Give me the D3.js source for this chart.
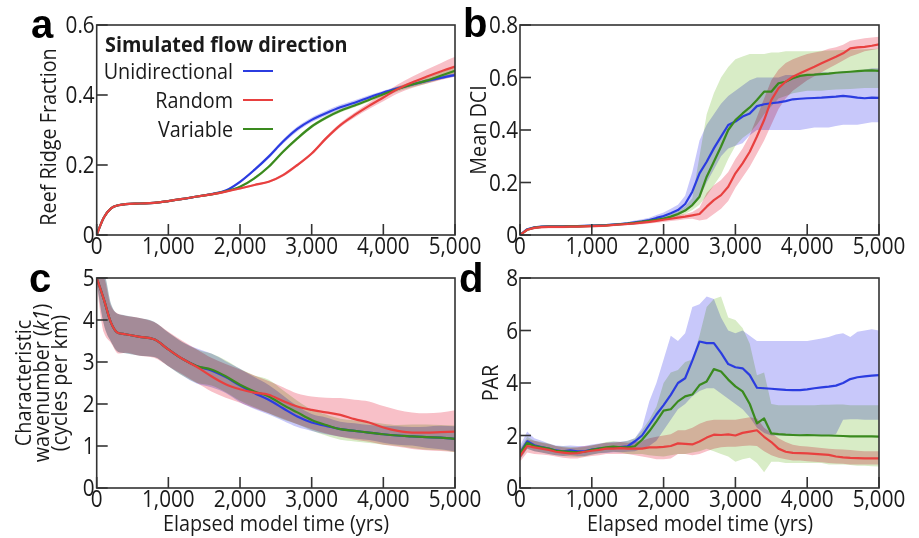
<!DOCTYPE html>
<html>
<head>
<meta charset="utf-8">
<script src="https://cdn.jsdelivr.net/npm/d3@7"></script>
<style>
  body { margin: 0; background: #fff; }
  svg { display: block; font-family: "Open Sans", "Noto Sans", sans-serif; }
  .band { mix-blend-mode: multiply; }
</style>
</head>
<body>
<svg id="fig" width="919" height="538"></svg>
<script>
// ---- time grids ----
const yearsCoarse = [0,100,200,300,400,600,800,1000,1200,1400,1600,1800,2000,2200,2400,2600,2800,3000,3200,3400,3600,3800,4000,4200,4400,4600,4800,5000];
const yearsFine = d3.range(0, 5001, 100);
const xTicks = [0,1000,2000,3000,4000,5000];

// ---- panel a: reef ridge fraction (mean + spread) ----
const ridgeBlue  = [0,0.05,0.076,0.085,0.088, 0.09,0.092,0.097, 0.103,0.11,0.117,0.127,0.152, 0.186,0.224,0.267,0.303,0.329, 0.348,0.365,0.378,0.393,0.407, 0.419,0.43,0.44,0.449,0.457];
const ridgeRed   = [0,0.05,0.076,0.085,0.088, 0.09,0.092,0.097, 0.103,0.11,0.116,0.124,0.133, 0.143,0.152,0.171,0.2,0.233, 0.276,0.314,0.343,0.369,0.393, 0.417,0.436,0.452,0.467,0.481];
const ridgeGreen = [0,0.05,0.076,0.085,0.088, 0.09,0.092,0.097, 0.103,0.11,0.116,0.125,0.138, 0.162,0.195,0.238,0.276,0.31, 0.335,0.355,0.37,0.386,0.402, 0.417,0.43,0.441,0.455,0.469];
const ridgeBlueSd  = [0,0.003,0.003,0.003,0.003, 0.003,0.003,0.003, 0.003,0.003,0.003,0.003,0.004, 0.004,0.005,0.006,0.007,0.007, 0.007,0.007,0.007,0.006,0.005, 0.005,0.005,0.005,0.005,0.005];
const ridgeRedSd   = [0,0.003,0.003,0.003,0.003, 0.003,0.003,0.003, 0.003,0.003,0.003,0.003,0.003, 0.003,0.003,0.004,0.004,0.004, 0.005,0.006,0.007,0.009,0.011, 0.013,0.016,0.02,0.024,0.028];
const ridgeGreenSd = [0,0.003,0.003,0.003,0.003, 0.003,0.003,0.003, 0.003,0.003,0.003,0.003,0.003, 0.004,0.004,0.005,0.005,0.005, 0.005,0.005,0.005,0.005,0.006, 0.007,0.008,0.009,0.01,0.011];

// ---- panel b: mean DCI ----
const dciBlue = [0,0.022,0.029,0.032,0.033,0.033,0.033,0.034,0.034,0.035,
  0.036,0.037,0.038,0.04,0.042,0.044,0.048,0.052,0.057,0.065,
  0.072,0.083,0.095,0.118,0.165,0.235,0.279,0.33,0.375,0.419,
  0.432,0.451,0.463,0.491,0.498,0.502,0.505,0.51,0.517,0.519,
  0.521,0.522,0.523,0.525,0.527,0.53,0.527,0.523,0.521,0.523, 0.522];
const dciBlueLo = [0,0.018,0.025,0.028,0.029,0.029,0.029,0.03,0.03,0.031,
  0.032,0.033,0.034,0.035,0.037,0.038,0.041,0.044,0.048,0.054,
  0.058,0.066,0.075,0.09,0.11,0.14,0.2,0.25,0.3,0.33,
  0.34,0.35,0.38,0.4,0.4,0.4,0.4,0.4,0.4,0.4,
  0.405,0.41,0.41,0.41,0.415,0.42,0.42,0.42,0.425,0.43, 0.43];
const dciBlueHi = [0,0.026,0.033,0.036,0.037,0.037,0.037,0.038,0.038,0.039,
  0.04,0.041,0.042,0.045,0.047,0.05,0.055,0.06,0.066,0.076,
  0.086,0.1,0.115,0.15,0.24,0.36,0.42,0.46,0.5,0.53,
  0.55,0.57,0.59,0.6,0.6,0.6,0.6,0.61,0.61,0.61,
  0.61,0.615,0.62,0.62,0.62,0.625,0.625,0.625,0.63,0.635, 0.635];
const dciGreen = [0,0.02,0.028,0.031,0.032,0.032,0.032,0.033,0.033,0.034,
  0.035,0.036,0.037,0.039,0.041,0.043,0.046,0.05,0.054,0.058,
  0.063,0.07,0.08,0.093,0.114,0.146,0.222,0.279,0.337,0.4,
  0.438,0.463,0.486,0.514,0.546,0.546,0.578,0.584,0.597,0.606,
  0.61,0.611,0.613,0.615,0.618,0.62,0.622,0.624,0.626,0.627, 0.625];
const dciGreenLo = [0,0.016,0.024,0.027,0.028,0.028,0.028,0.029,0.029,0.03,
  0.031,0.032,0.033,0.035,0.037,0.039,0.041,0.045,0.048,0.052,
  0.056,0.062,0.07,0.08,0.095,0.115,0.15,0.19,0.23,0.29,
  0.34,0.37,0.39,0.42,0.46,0.49,0.52,0.53,0.54,0.545,
  0.55,0.55,0.55,0.552,0.554,0.555,0.556,0.558,0.56,0.56, 0.56];
const dciGreenHi = [0,0.024,0.032,0.035,0.036,0.036,0.036,0.037,0.037,0.038,
  0.039,0.04,0.041,0.043,0.045,0.047,0.051,0.055,0.06,0.064,
  0.07,0.078,0.09,0.11,0.14,0.3,0.46,0.54,0.6,0.64,
  0.67,0.68,0.69,0.69,0.69,0.695,0.695,0.7,0.7,0.7,
  0.7,0.7,0.702,0.703,0.704,0.705,0.706,0.707,0.708,0.709, 0.71];
const dciRed = [0,0.02,0.027,0.03,0.031,0.031,0.031,0.032,0.032,0.033,
  0.034,0.035,0.036,0.038,0.04,0.042,0.044,0.047,0.05,0.054,
  0.058,0.062,0.066,0.07,0.075,0.08,0.108,0.133,0.152,0.184,
  0.235,0.273,0.317,0.375,0.438,0.514,0.559,0.584,0.603,0.616,
  0.629,0.641,0.654,0.667,0.679,0.692,0.711,0.715,0.717,0.721, 0.726];
const dciRedLo = [0,0.015,0.022,0.025,0.026,0.026,0.026,0.027,0.027,0.028,
  0.029,0.03,0.031,0.033,0.035,0.037,0.039,0.041,0.044,0.047,
  0.05,0.053,0.056,0.06,0.062,0.055,0.06,0.08,0.1,0.13,
  0.18,0.22,0.26,0.31,0.36,0.42,0.48,0.52,0.55,0.57,
  0.59,0.605,0.62,0.635,0.65,0.665,0.68,0.69,0.7,0.705, 0.71];
const dciRedHi = [0,0.025,0.032,0.035,0.036,0.036,0.036,0.037,0.037,0.038,
  0.039,0.04,0.041,0.043,0.045,0.047,0.05,0.053,0.056,0.061,
  0.066,0.071,0.076,0.08,0.088,0.105,0.16,0.19,0.21,0.24,
  0.29,0.33,0.38,0.45,0.52,0.59,0.63,0.655,0.67,0.68,
  0.69,0.695,0.7,0.71,0.715,0.725,0.74,0.745,0.75,0.752, 0.755];

// ---- panel c: characteristic wavenumber ----
const waveBlue  = [5.0,4.49,3.93,3.69,3.66, 3.6,3.54,3.3, 3.07,2.9,2.8,2.64,2.44, 2.26,2.1,1.9,1.7,1.56, 1.48,1.4,1.36,1.32,1.28, 1.25,1.23,1.21,1.2,1.17];
const waveRed   = [5.0,4.49,3.93,3.69,3.66, 3.6,3.54,3.3, 3.07,2.88,2.66,2.47,2.35, 2.27,2.22,2.07,1.94,1.86, 1.8,1.74,1.64,1.56,1.44, 1.36,1.32,1.32,1.33,1.34];
const waveGreen = [5.0,4.49,3.93,3.69,3.66, 3.6,3.54,3.3, 3.07,2.9,2.82,2.66,2.46, 2.3,2.18,1.98,1.8,1.62, 1.5,1.4,1.36,1.32,1.28, 1.25,1.23,1.21,1.2,1.17];
const waveBlueSd  = [0.1,0.6,0.45,0.45,0.45, 0.45,0.42,0.4, 0.4,0.42,0.4,0.38,0.4, 0.38,0.35,0.3,0.25,0.2, 0.2,0.18,0.18,0.18,0.2, 0.22,0.22,0.25,0.28,0.3];
const waveGreenSd = [0.1,0.6,0.45,0.45,0.45, 0.45,0.42,0.4, 0.4,0.4,0.38,0.38,0.38, 0.38,0.4,0.35,0.28,0.25, 0.25,0.25,0.25,0.25,0.25, 0.25,0.28,0.3,0.3,0.32];
const waveRedHi = [5.1,5.0,4.33,4.15,4.1, 4.05,3.95,3.72, 3.5,3.3,3.1,2.95,2.82, 2.68,2.55,2.4,2.25,2.18, 2.15,2.14,2.1,2.06,1.95, 1.86,1.8,1.78,1.8,1.85];
const waveRedLo = [4.9,3.7,3.45,3.2,3.22, 3.15,3.1,2.9, 2.7,2.5,2.3,2.15,2.03, 1.9,1.78,1.65,1.52,1.4, 1.3,1.22,1.15,1.1,1.03, 0.98,0.93,0.9,0.88,0.86];

// ---- panel d: PAR ----
const parBlue = [1.33,1.78,1.63,1.56,1.5,1.43,1.4,1.43,1.4,1.4,
  1.46,1.5,1.52,1.56,1.56,1.59,1.78,2.0,2.4,2.8,
  3.16,3.55,4.0,4.18,4.85,5.58,5.52,5.52,5.15,4.72,
  4.6,4.56,4.3,3.82,3.8,3.78,3.76,3.74,3.73,3.73,
  3.76,3.8,3.83,3.86,3.9,4.0,4.15,4.22,4.25,4.28, 4.3];
const parBlueLo = [1.1,1.5,1.4,1.35,1.3,1.25,1.22,1.25,1.22,1.22,
  1.28,1.32,1.33,1.36,1.36,1.38,1.4,1.5,1.6,1.8,
  2.2,2.6,3.0,3.2,3.5,3.7,3.8,3.8,3.6,3.4,
  3.2,3.0,2.7,2.3,2.1,2.0,2.0,2.0,2.0,2.0,
  2.0,2.0,2.0,2.0,2.05,2.6,2.62,2.62,2.6,2.6, 2.6];
const parBlueHi = [1.6,2.15,1.9,1.8,1.7,1.62,1.6,1.62,1.6,1.6,
  1.66,1.7,1.72,1.76,1.76,1.8,1.9,2.3,3.3,4.0,
  4.9,5.8,5.6,5.9,6.9,7.0,7.3,7.2,6.5,6.0,
  5.9,6.0,5.8,5.6,5.6,5.6,5.6,5.6,5.6,5.6,
  5.6,5.65,5.7,5.75,5.85,5.9,5.75,5.95,6.0,6.05, 6.0];
const parGreen = [1.3,1.72,1.6,1.55,1.5,1.42,1.4,1.38,1.36,1.38,
  1.45,1.5,1.55,1.58,1.55,1.55,1.59,1.84,2.16,2.54,
  2.95,3.0,3.3,3.49,3.56,3.92,4.06,4.53,4.44,4.13,
  3.87,3.68,3.2,2.46,2.65,2.08,2.05,2.03,2.02,2.01,
  2.02,2.01,2.0,2.0,1.99,1.98,1.97,1.97,1.97,1.97, 1.96];
const parGreenLo = [1.1,1.5,1.4,1.35,1.3,1.25,1.22,1.2,1.18,1.2,
  1.27,1.32,1.35,1.38,1.35,1.3,1.3,1.3,1.25,1.22,
  1.2,1.25,1.3,1.3,1.35,1.4,1.5,1.4,1.3,1.2,
  1.0,1.1,1.15,0.95,0.6,1.0,1.0,0.95,0.95,0.95,
  0.95,0.95,0.95,0.9,0.9,0.9,0.88,0.85,0.85,0.83, 0.82];
const parGreenHi = [1.5,1.95,1.8,1.75,1.7,1.6,1.58,1.56,1.54,1.56,
  1.63,1.68,1.75,1.78,1.75,1.8,1.9,2.2,2.6,3.1,
  4.0,4.4,4.5,4.8,4.9,5.8,6.9,7.2,7.3,6.5,
  6.4,6.1,5.5,4.3,4.4,3.2,3.15,3.15,3.15,3.15,
  3.15,3.15,3.17,3.17,3.18,3.18,3.15,3.15,3.15,3.15, 3.15];
const parRed = [1.2,1.6,1.55,1.5,1.45,1.38,1.35,1.32,1.33,1.38,
  1.42,1.45,1.5,1.5,1.52,1.5,1.5,1.5,1.55,1.55,
  1.57,1.6,1.7,1.68,1.66,1.77,1.92,2.03,2.02,2.04,
  2.0,2.1,2.15,2.2,1.95,1.75,1.5,1.38,1.34,1.33,
  1.32,1.3,1.28,1.26,1.2,1.17,1.15,1.14,1.13,1.13, 1.13];
const parRedLo = [1.0,1.35,1.3,1.28,1.25,1.2,1.15,1.12,1.12,1.18,
  1.22,1.25,1.3,1.3,1.3,1.3,1.25,1.2,1.15,1.1,
  1.1,1.12,1.3,1.3,1.25,1.3,1.4,1.5,1.55,1.57,
  1.57,1.6,1.62,1.6,1.4,1.25,1.15,1.1,1.05,1.05,
  1.02,1.0,0.98,0.95,0.93,0.92,0.9,0.9,0.9,0.9, 0.9];
const parRedHi = [1.45,1.85,1.8,1.72,1.68,1.6,1.55,1.52,1.55,1.6,
  1.62,1.68,1.72,1.72,1.75,1.72,1.75,1.8,1.9,1.95,
  2.0,2.05,2.2,2.2,2.3,2.45,2.55,2.6,2.6,2.6,
  2.6,2.65,2.7,2.65,2.3,2.1,1.9,1.75,1.65,1.6,
  1.58,1.55,1.52,1.5,1.48,1.47,1.45,1.42,1.4,1.4, 1.4];

// ---- styles ----
const BLUE = "#2b3ce0", RED = "#e8403f", GREEN = "#3a8a1e";
// bands are multiplied onto each other, like the overlapping shades in the figure
const BLUE_BAND = "#c8c8fa", RED_BAND = "#f8c0c8", GREEN_BAND = "#d8ecc6";
const SX = 0.9;   // the source font is a little narrower than Open Sans

const svg = d3.select("#fig");

function txt(g, x, y, str, size, anchor, rotate, weight) {
  return g.append("text")
    .attr("transform", "translate(" + x + "," + y + ")" + (rotate ? " rotate(-90)" : "") + " scale(" + SX + ",1)")
    .attr("text-anchor", anchor)
    .style("font-size", size + "px")
    .style("font-weight", weight || 400)
    .attr("fill", "#1a1a1a")
    .text(str);
}

function drawPanel(p, idx) {
  const x = d3.scaleLinear().domain([0, 5000]).range([p.left, p.right]);
  const y = d3.scaleLinear().domain([0, p.yMax]).range([p.bottom, p.top]);
  const g = svg.append("g");

  const clipId = "clip" + idx;
  svg.append("clipPath").attr("id", clipId)
    .append("rect").attr("x", p.left).attr("y", p.top)
    .attr("width", p.right - p.left).attr("height", p.bottom - p.top);
  const plot = g.append("g").attr("clip-path", "url(#" + clipId + ")");

  // bands first
  p.series.forEach(function(s) {
    const lo = s.lo || s.mean.map(function(m, i) { return m - s.sd[i]; });
    const hi = s.hi || s.mean.map(function(m, i) { return m + s.sd[i]; });
    const area = d3.area()
      .x(function(d, i) { return x(p.years[i]); })
      .y0(function(d, i) { return y(lo[i]); })
      .y1(function(d, i) { return y(hi[i]); })
      .curve(p.curve);
    plot.append("path").attr("class", "band").attr("d", area(s.mean)).attr("fill", s.band);
  });
  // then mean lines
  p.series.forEach(function(s) {
    const line = d3.line()
      .x(function(d, i) { return x(p.years[i]); })
      .y(function(d) { return y(d); })
      .curve(p.curve);
    plot.append("path").attr("d", line(s.mean))
      .attr("fill", "none").attr("stroke", s.color)
      .attr("stroke-width", 2.2).attr("stroke-linejoin", "round");
  });

  // frame
  g.append("rect").attr("x", p.left).attr("y", p.top)
    .attr("width", p.right - p.left).attr("height", p.bottom - p.top)
    .attr("fill", "none").attr("stroke", "#333").attr("stroke-width", 1.6);

  // ticks point inward
  xTicks.forEach(function(t) {
    g.append("line").attr("x1", x(t)).attr("x2", x(t))
      .attr("y1", p.bottom).attr("y2", p.bottom - 11)
      .attr("stroke", "#333").attr("stroke-width", 1.6);
    txt(g, x(t), p.bottom + 19, d3.format(",")(t), 23, "middle");
  });
  p.yTicks.forEach(function(v) {
    g.append("line").attr("x1", p.left).attr("x2", p.left + 11)
      .attr("y1", y(v)).attr("y2", y(v))
      .attr("stroke", "#333").attr("stroke-width", 1.6);
    txt(g, p.left - 2, y(v) + 8, p.fmt(v), 23, "end");
  });

  // panel letter
  g.append("text").attr("x", p.letterX).attr("y", p.letterY)
    .style("font-family", "'Liberation Sans', Arial, sans-serif")
    .style("font-size", "40px").style("font-weight", 700)
    .text(p.letter);
}

const fmtDec = function(v) { return v === 0 ? "0" : d3.format(".1f")(v); };
const fmtInt = d3.format("d");

const panels = [
  { letter: "a", letterX: 31, letterY: 38, left: 96.7, right: 455, top: 25, bottom: 235,
    yMax: 0.6, yTicks: [0, 0.2, 0.4, 0.6], fmt: fmtDec, years: yearsCoarse, curve: d3.curveMonotoneX,
    series: [
      { mean: ridgeBlue, sd: ridgeBlueSd, color: BLUE, band: BLUE_BAND },
      { mean: ridgeGreen, sd: ridgeGreenSd, color: GREEN, band: GREEN_BAND },
      { mean: ridgeRed, sd: ridgeRedSd, color: RED, band: RED_BAND }
    ] },
  { letter: "b", letterX: 463, letterY: 37, left: 520, right: 879, top: 25, bottom: 235,
    yMax: 0.8, yTicks: [0, 0.2, 0.4, 0.6, 0.8], fmt: fmtDec, years: yearsFine, curve: d3.curveLinear,
    series: [
      { mean: dciBlue, lo: dciBlueLo, hi: dciBlueHi, color: BLUE, band: BLUE_BAND },
      { mean: dciGreen, lo: dciGreenLo, hi: dciGreenHi, color: GREEN, band: GREEN_BAND },
      { mean: dciRed, lo: dciRedLo, hi: dciRedHi, color: RED, band: RED_BAND }
    ] },
  { letter: "c", letterX: 29, letterY: 292, left: 96.7, right: 455, top: 278, bottom: 488,
    yMax: 5, yTicks: [0, 1, 2, 3, 4, 5], fmt: fmtInt, years: yearsCoarse, curve: d3.curveMonotoneX,
    series: [
      { mean: waveBlue, sd: waveBlueSd, color: BLUE, band: BLUE_BAND },
      { mean: waveGreen, sd: waveGreenSd, color: GREEN, band: GREEN_BAND },
      { mean: waveRed, lo: waveRedLo, hi: waveRedHi, color: RED, band: RED_BAND }
    ] },
  { letter: "d", letterX: 459, letterY: 292, left: 520, right: 879, top: 278, bottom: 488,
    yMax: 8, yTicks: [0, 2, 4, 6, 8], fmt: fmtInt, years: yearsFine, curve: d3.curveLinear,
    series: [
      { mean: parBlue, lo: parBlueLo, hi: parBlueHi, color: BLUE, band: BLUE_BAND },
      { mean: parGreen, lo: parGreenLo, hi: parGreenHi, color: GREEN, band: GREEN_BAND },
      { mean: parRed, lo: parRedLo, hi: parRedHi, color: RED, band: RED_BAND }
    ] }
];

panels.forEach(drawPanel);

// axis titles
const labels = svg.append("g");
txt(labels, 56, 137, "Reef Ridge Fraction", 22, "middle", true);
txt(labels, 486, 130, "Mean DCI", 22, "middle", true);
txt(labels, 498, 383, "PAR", 22, "middle", true);
txt(labels, 31, 383, "Characteristic", 22, "middle", true);
const wn = txt(labels, 49, 383, "", 22, "middle", true);
wn.append("tspan").text("wavenumber (");
wn.append("tspan").style("font-style", "italic").text("k1");
wn.append("tspan").text(")");
txt(labels, 67, 383, "(cycles per km)", 22, "middle", true);
txt(labels, 276, 531, "Elapsed model time (yrs)", 22, "middle");
txt(labels, 700, 531, "Elapsed model time (yrs)", 22, "middle");

// legend in panel a
const legendNames = ["Unidirectional", "Random", "Variable"];
const legendColors = [BLUE, RED, GREEN];
txt(labels, 105, 52, "Simulated flow direction", 22, "start", false, 700);
legendNames.forEach(function(name, i) {
  const by = 79 + i * 29;
  txt(labels, 233, by, name, 22, "end");
  labels.append("line").attr("x1", 243).attr("x2", 273)
    .attr("y1", by - 8).attr("y2", by - 8)
    .attr("stroke", legendColors[i]).attr("stroke-width", 2);
});
</script>
</body>
</html>
